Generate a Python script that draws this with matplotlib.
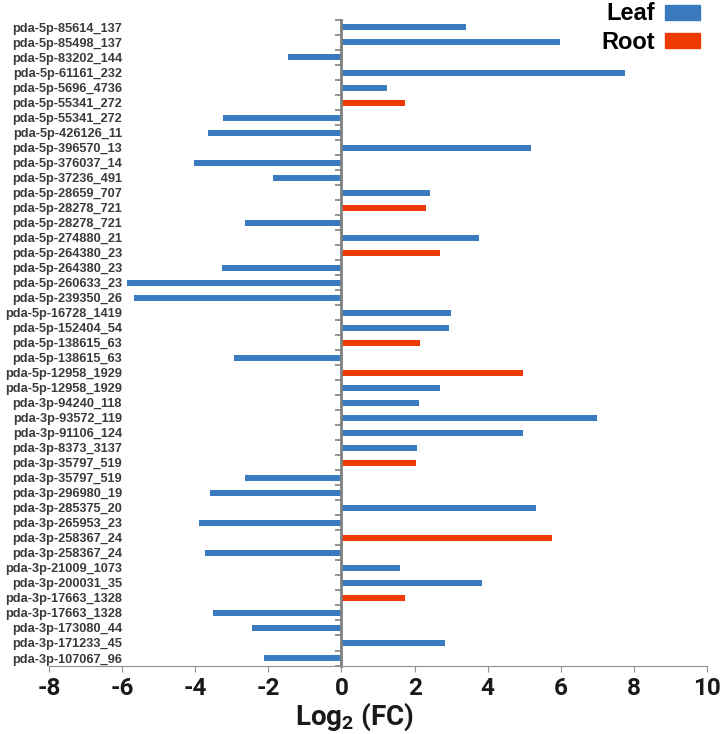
import numpy as np
import matplotlib
matplotlib.use("Agg")
import matplotlib.pyplot as plt
from matplotlib.patches import Patch

# --- data (top to bottom) ---
labels = [
    "pda-5p-85614_137", "pda-5p-85498_137", "pda-5p-83202_144", "pda-5p-61161_232",
    "pda-5p-5696_4736", "pda-5p-55341_272", "pda-5p-55341_272", "pda-5p-426126_11",
    "pda-5p-396570_13", "pda-5p-376037_14", "pda-5p-37236_491", "pda-5p-28659_707",
    "pda-5p-28278_721", "pda-5p-28278_721", "pda-5p-274880_21", "pda-5p-264380_23",
    "pda-5p-264380_23", "pda-5p-260633_23", "pda-5p-239350_26", "pda-5p-16728_1419",
    "pda-5p-152404_54", "pda-5p-138615_63", "pda-5p-138615_63", "pda-5p-12958_1929",
    "pda-5p-12958_1929", "pda-3p-94240_118", "pda-3p-93572_119", "pda-3p-91106_124",
    "pda-3p-8373_3137", "pda-3p-35797_519", "pda-3p-35797_519", "pda-3p-296980_19",
    "pda-3p-285375_20", "pda-3p-265953_23", "pda-3p-258367_24", "pda-3p-258367_24",
    "pda-3p-21009_1073", "pda-3p-200031_35", "pda-3p-17663_1328", "pda-3p-17663_1328",
    "pda-3p-173080_44", "pda-3p-171233_45", "pda-3p-107067_96",
]
log2fc = [
    3.41, 5.97, -1.45, 7.75, 1.24, 1.73, -3.23, -3.64, 5.18, -4.03, -1.86,
    2.43, 2.32, -2.63, 3.75, 2.70, -3.26, -5.86, -5.67, 2.99, 2.95, 2.15,
    -2.93, 4.97, 2.70, 2.12, 6.99, 4.97, 2.07, 2.05, -2.63, -3.59, 5.32,
    -3.89, 5.77, -3.73, 1.60, 3.84, 1.73, -3.51, -2.44, 2.84, -2.11,
]
tissue = [
    "Leaf", "Leaf", "Leaf", "Leaf", "Leaf", "Root", "Leaf", "Leaf", "Leaf", "Leaf", "Leaf",
    "Leaf", "Root", "Leaf", "Leaf", "Root", "Leaf", "Leaf", "Leaf", "Leaf", "Leaf", "Root",
    "Leaf", "Root", "Leaf", "Leaf", "Leaf", "Leaf", "Leaf", "Root", "Leaf", "Leaf", "Leaf",
    "Leaf", "Root", "Leaf", "Leaf", "Leaf", "Root", "Leaf", "Leaf", "Leaf", "Leaf",
]
colors = {"Leaf": "#3a7bbf", "Root": "#ee3b06"}

narrow = ["Roboto", "DejaVu Sans"]
plt.rcParams["font.family"] = ["Liberation Sans", "DejaVu Sans"]

fig = plt.figure(figsize=(7.23, 7.34), dpi=100)
ax = fig.add_axes([0.0678, 0.0933, 0.9102, 0.8795])

y = np.arange(len(labels))
ax.barh(y, log2fc, height=0.4, color=[colors[t] for t in tissue])

ax.set_xlim(-8, 10)
ax.set_ylim(len(labels) - 0.5, -0.5)
ax.set_xticks(np.arange(-8, 11, 2))
ax.set_xticklabels([str(v) for v in range(-8, 11, 2)], fontsize=17.5,
                   fontweight="bold", family=narrow, color="#1a1a1a")
ax.set_xlabel("Log$_\\mathregular{2}$ (FC)", fontsize=20, fontweight="bold",
              family=narrow, color="#1a1a1a")
ax.xaxis.set_label_coords(0.465, -0.055)

# y axis drawn at zero, labels pushed out to the left
ax.spines["left"].set_position(("data", 0))
ax.spines["left"].set_color("#808080")
ax.spines["left"].set_linewidth(2)
ax.spines["bottom"].set_color("#909090")
ax.spines["top"].set_visible(False)
ax.spines["right"].set_visible(False)
ax.set_yticks(y)
ax.set_yticklabels(labels, fontsize=9.2, fontweight="bold", color="#3a3a3a")
ax.set_yticks(np.arange(len(labels) + 1) - 0.5, minor=True)
ax.tick_params(axis="y", which="major", length=0, pad=158)
ax.tick_params(axis="y", which="minor", length=4, width=1.2, color="#808080")
ax.tick_params(axis="x", length=4, color="#909090", pad=4)

handles = [Patch(color=colors["Leaf"]), Patch(color=colors["Root"])]
fig.legend(handles, ["Leaf", "Root"], loc="upper right",
           bbox_to_anchor=(702 / 723, 1.0), frameon=False,
           prop={"size": 17, "weight": "bold"},
           markerfirst=False, handlelength=1.45, handleheight=0.6,
           handletextpad=0.45, labelspacing=0.25, borderpad=0.1, borderaxespad=0)

fig.savefig("out.png", dpi=100)
